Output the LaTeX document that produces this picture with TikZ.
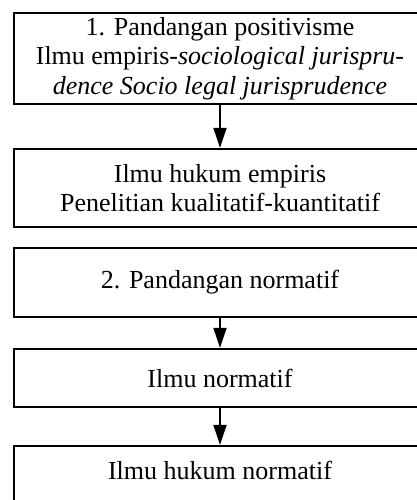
\documentclass[tikz,border=0pt]{standalone}
\usepackage{fontspec}
\setmainfont{Liberation Serif}
\usetikzlibrary{arrows.meta}
\begin{document}
\begin{tikzpicture}[x=1pt,y=1pt,
  box/.style={draw, line width=2.3pt, minimum width=412pt, inner sep=0pt,
    align=center, font=\fontsize{26}{29.5}\selectfont},
  arr/.style={line width=1.8pt, -{Triangle[width=13pt,length=20pt]}}]
\useasboundingbox (0,0) rectangle (417,500);
\clip (0,0) rectangle (417,500);
\node[box, minimum height=91pt] (b1) at (220,441.5)
  {1. Pandangan positivisme\\Ilmu empiris-\textit{sociological jurispru-}\\\textit{dence Socio legal jurisprudence}};
\node[box, minimum height=78pt] (b2) at (220,312)
  {Ilmu hukum empiris\\Penelitian kualitatif-kuantitatif};
\node[box, minimum height=69pt] (b3) at (220,217.5) {2. Pandangan normatif};
\node[box, minimum height=58pt] (b4) at (220,122) {Ilmu normatif};
\node[box, minimum height=74pt, text height=18pt, text depth=24pt] (b5) at (220,17) {Ilmu hukum normatif};
\draw[arr] (b1) -- (b2);
\draw[arr] (b3) -- (b4);
\draw[arr] (b4) -- (b5);
\end{tikzpicture}
\end{document}
